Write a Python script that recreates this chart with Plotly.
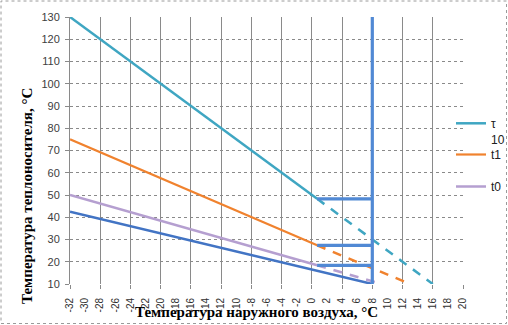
import plotly.graph_objects as go

# Outdoor air temperature tick labels (every 2 degrees)
x_tick_vals = list(range(-32, 21, 2))
x_tick_text = [str(v) for v in x_tick_vals]

# Break point of the heating curve (outdoor temperature, °C)
x_break = 0.7
# Cut-off outdoor temperature (vertical line)
x_cut = 8

# τ10 – supply water temperature
tau_x = [-32, x_break]
tau_y = [130, 48.3]
tau_ext_x = [x_break, 16]
tau_ext_y = [48.3, 10]

# t1 – water temperature after mixing
t1_x = [-32, x_break]
t1_y = [75, 27.4]
t1_ext_x = [x_break, 13]
t1_ext_y = [27.4, 10]

# t0 – return water temperature
t0_x = [-32, x_break]
t0_y = [50, 18.4]
t0_ext_x = [x_break, 9.2]
t0_ext_y = [18.4, 10]

# lower curve
t2_x = [-32, x_cut]
t2_y = [42.5, 10]

# vertical cut-off line limits
cut_y = [10, 130]

C_TAU = "#3fa6c2"
C_T1 = "#f0822e"
C_T0 = "#b59fd0"
C_BLUE = "#4274c4"
C_STEP = "#5189d4"
GRID = "#8a8a8a"

W, H = 508, 325
ML, MR, MT, MB = 70, 45, 17, 41
PW, PH = W - ML - MR, H - MT - MB


def px_x(p):
    return (p - ML) / PW


def px_y(p):
    return (H - MB - p) / PH


fig = go.Figure()

fig.add_trace(go.Scatter(x=t2_x, y=t2_y, mode="lines", showlegend=False,
                         line=dict(color=C_BLUE, width=2.5), hoverinfo="skip"))

fig.add_trace(go.Scatter(x=tau_x, y=tau_y, mode="lines", name="τ<br>10",
                         legend="legend",
                         line=dict(color=C_TAU, width=2.5)))
fig.add_trace(go.Scatter(x=t1_x, y=t1_y, mode="lines", name="t1",
                         legend="legend2",
                         line=dict(color=C_T1, width=2.2)))
fig.add_trace(go.Scatter(x=t0_x, y=t0_y, mode="lines", name="t0",
                         legend="legend3",
                         line=dict(color=C_T0, width=2.5)))

for ex, ey, col in [(tau_ext_x, tau_ext_y, C_TAU),
                    (t1_ext_x, t1_ext_y, C_T1),
                    (t0_ext_x, t0_ext_y, C_T0)]:
    fig.add_trace(go.Scatter(x=ex, y=ey, mode="lines", showlegend=False,
                             line=dict(color=col, width=2.5, dash="9px,8px"),
                             hoverinfo="skip"))

# horizontal steps from the break values to the cut-off line, plus the cut-off line
step_x, step_y = [], []
for series_y in (tau_y, t1_y, t0_y):
    step_x += [x_break, x_cut, None]
    step_y += [series_y[-1], series_y[-1], None]
step_x += [x_cut, x_cut]
step_y += cut_y
fig.add_trace(go.Scatter(x=step_x, y=step_y, mode="lines", showlegend=False,
                         line=dict(color=C_STEP, width=3.2), hoverinfo="skip"))

# carrier for the label axis
fig.add_trace(go.Scatter(x=[x_tick_vals[0]], y=[cut_y[0]], xaxis="x2",
                         mode="markers", marker=dict(opacity=0),
                         showlegend=False, hoverinfo="skip"))

tick_font = dict(family="Liberation Sans", size=11, color="#404040")
legend_font = dict(family="Liberation Sans", size=12, color="#202020")

fig.update_layout(
    width=W, height=H,
    margin=dict(l=ML, r=MR, t=MT, b=MB, autoexpand=False),
    paper_bgcolor="white", plot_bgcolor="white",
    xaxis=dict(range=[-32, 20], dtick=4, tick0=-32, showgrid=True,
               gridcolor=GRID, gridwidth=1, showticklabels=False,
               ticks="outside", ticklen=4, tickcolor=GRID,
               zeroline=False, showline=False),
    xaxis2=dict(range=[-32, 20], overlaying="x", matches="x", side="bottom",
                tickmode="array", tickvals=x_tick_vals, ticktext=x_tick_text,
                tickangle=-90, tickfont=dict(family="Liberation Sans", size=10,
                                             color="#303030"),
                ticks="", showgrid=False, zeroline=False, showline=False,
                ticklabelstandoff=11),
    yaxis=dict(range=[10, 130], dtick=10, tick0=10, showgrid=True,
               gridcolor=GRID, griddash="dot", gridwidth=1,
               ticks="outside", ticklen=4, tickcolor=GRID,
               showline=True, linecolor=GRID, linewidth=1,
               zeroline=False, tickfont=tick_font, ticklabelstandoff=3),
    legend=dict(x=px_x(451), y=px_y(109), xanchor="left", yanchor="top",
                valign="top", font=legend_font, bgcolor="rgba(0,0,0,0)"),
    legend2=dict(x=px_x(451), y=px_y(140), xanchor="left", yanchor="top",
                 font=legend_font, bgcolor="rgba(0,0,0,0)"),
    legend3=dict(x=px_x(451), y=px_y(172), xanchor="left", yanchor="top",
                 font=legend_font, bgcolor="rgba(0,0,0,0)"),
    shapes=[dict(type="rect", xref="paper", yref="paper",
                 x0=px_x(1), x1=px_x(506.5), y0=px_y(323.5), y1=px_y(1),
                 line=dict(color="#9a9a9a", width=1, dash="dot"))],
    annotations=[
        dict(text="<b>Температура наружного воздуха, °С</b>", xref="paper",
             yref="paper", x=px_x(256), y=px_y(312), showarrow=False,
             xanchor="center", yanchor="middle",
             font=dict(family="Liberation Serif", size=15, color="black")),
        dict(text="<b>Температура теплоносителя, °С</b>", xref="paper",
             yref="paper", x=px_x(27), y=px_y(196), showarrow=False,
             textangle=-90, xanchor="center", yanchor="middle",
             font=dict(family="Liberation Serif", size=15, color="black")),
    ],
)

fig.write_html("out.html")
